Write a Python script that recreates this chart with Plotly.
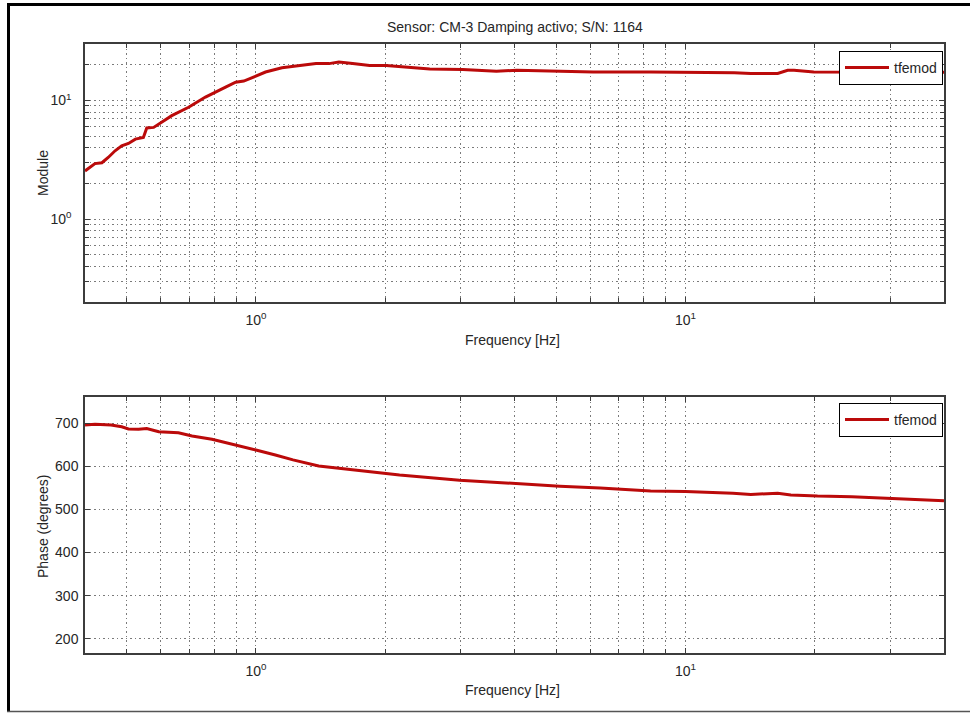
import math
import plotly.graph_objects as go

# Measured transfer function of the CM-3 sensor (active damping), S/N 1164
freq_module = [0.400, 0.422, 0.438, 0.453, 0.470, 0.487, 0.505, 0.524, 0.547, 0.557,
               0.578, 0.637, 0.697, 0.763, 0.850, 0.897, 0.937, 1.00, 1.053, 1.15,
               1.26, 1.38, 1.48, 1.56, 1.68, 1.84, 2.01, 2.24, 2.54, 3.03,
               3.63, 4.05, 4.93, 6.10, 8.30, 9.05, 11.4, 13.0, 14.2, 16.4,
               17.3, 17.9, 19.9, 22.7, 30.0, 40.0]
module = [2.55, 2.94, 2.99, 3.31, 3.77, 4.15, 4.35, 4.73, 4.89, 5.87,
          5.94, 7.46, 8.78, 10.7, 13.0, 14.3, 14.6, 16.0, 17.4, 18.9,
          19.8, 20.5, 20.5, 21.1, 20.5, 19.8, 19.8, 19.2, 18.5, 18.3,
          17.7, 18.0, 17.6, 17.4, 17.4, 17.4, 17.4, 17.2, 16.9, 16.9,
          18.0, 18.0, 17.4, 17.4, 17.4, 17.3]

freq_phase = [0.400, 0.422, 0.460, 0.487, 0.505, 0.533, 0.557, 0.594, 0.660, 0.710,
              0.790, 0.880, 1.00, 1.11, 1.22, 1.40, 1.60, 1.80, 2.00, 2.16,
              2.98, 4.12, 5.10, 6.33, 8.30, 10.0, 10.8, 12.9, 14.2, 16.4,
              17.6, 20.3, 24.4, 30.1, 40.0]
phase = [696, 697.7, 696, 692, 687, 686, 688, 680.5, 678, 670.5,
         663, 652, 638, 626.5, 615, 601, 594, 588, 583, 580,
         568, 559, 554, 550, 543, 542, 541, 537.5, 535, 537.5,
         533.6, 531, 529.7, 526, 520]

# Decade ticks (labelled) and in-between grid positions for the log axes
decade_ticks = [1, 10]
decade_labels = ["10<sup>0</sup>", "10<sup>1</sup>"]
freq_minor = [0.4, 0.5, 0.6, 0.7, 0.8, 0.9, 2, 3, 4, 5, 6, 7, 8, 9, 20, 30, 40]
module_minor = [0.2, 0.3, 0.4, 0.5, 0.6, 0.7, 0.8, 0.9, 2, 3, 4, 5, 6, 7, 8, 9, 20, 30]
phase_ticks = [200, 300, 400, 500, 600, 700]

W, H = 970, 713
LINE_RED = "#bb0a0a"
FONT = "Liberation Sans, Arial, Helvetica, sans-serif"
TXT = "#262626"
FS = 14
GRID_DASH = "1.5px,3px"
GRID_COLOR = "#7a7a7a"


def px(x):
    return x / W


def py(y):
    return 1 - y / H


axis_common = dict(
    showline=True, linecolor="#3c3c3c", linewidth=1.5, mirror="ticks",
    ticks="inside", ticklen=5, tickwidth=1, tickcolor="#3c3c3c",
    showgrid=True, gridcolor=GRID_COLOR, griddash=GRID_DASH, gridwidth=1,
    zeroline=False, tickfont=dict(family=FONT, size=FS, color=TXT),
)


def minor_grid(vals):
    return dict(tickmode="array", tickvals=vals, ticks="inside", ticklen=4,
                tickwidth=1, tickcolor="#3c3c3c", showgrid=True,
                gridcolor=GRID_COLOR, griddash=GRID_DASH, gridwidth=1)


fig = go.Figure()
fig.add_trace(go.Scatter(
    x=freq_module, y=module, mode="lines", name="tfemod",
    line=dict(color=LINE_RED, width=3), xaxis="x", yaxis="y", legend="legend",
))
fig.add_trace(go.Scatter(
    x=freq_phase, y=phase, mode="lines", name="tfemod",
    line=dict(color=LINE_RED, width=3), xaxis="x2", yaxis="y2", legend="legend2",
))

xdom = [px(85), px(944)]
xrange = [math.log10(0.4), math.log10(40)]

legend_style = dict(
    xanchor="right", yanchor="top", bgcolor="white", bordercolor="#000000",
    borderwidth=1, itemwidth=44, font=dict(family=FONT, size=FS, color=TXT),
)

fig.update_layout(
    width=W, height=H, autosize=False,
    margin=dict(l=0, r=0, t=0, b=0),
    paper_bgcolor="white", plot_bgcolor="white",
    font=dict(family=FONT, size=FS, color=TXT),
    xaxis=dict(axis_common, domain=xdom, anchor="y", type="log", range=xrange,
               tickmode="array", tickvals=decade_ticks, ticktext=decade_labels,
               minor=minor_grid(freq_minor), ticklabelstandoff=4),
    yaxis=dict(axis_common, domain=[py(302), py(44)], anchor="x", type="log",
               range=[math.log10(0.2), math.log10(30)], tickmode="array",
               tickvals=decade_ticks, ticktext=decade_labels,
               minor=minor_grid(module_minor), ticklabelstandoff=9),
    xaxis2=dict(axis_common, domain=xdom, anchor="y2", type="log", range=xrange,
                tickmode="array", tickvals=decade_ticks, ticktext=decade_labels,
                minor=minor_grid(freq_minor), ticklabelstandoff=4),
    yaxis2=dict(axis_common, domain=[py(653), py(397)], anchor="x2",
                range=[167, 761], tickmode="array", tickvals=phase_ticks,
                ticktext=[str(v) for v in phase_ticks], ticklabelstandoff=2),
    legend=dict(legend_style, x=px(943), y=py(51)),
    legend2=dict(legend_style, x=px(943), y=py(403)),
    showlegend=True,
)

annotations = [
    dict(text="Sensor: CM-3 Damping activo; S/N: 1164", x=px(514.5), y=py(27.5)),
    dict(text="Frequency [Hz]", x=px(512), y=py(340)),
    dict(text="Frequency [Hz]", x=px(512), y=py(690)),
    dict(text="Module", x=px(43), y=py(173), textangle=-90),
    dict(text="Phase (degrees)", x=px(43), y=py(526), textangle=-90),
]
for a in annotations:
    fig.add_annotation(xref="paper", yref="paper", showarrow=False,
                       xanchor="center", yanchor="middle",
                       font=dict(family=FONT, size=FS, color=TXT), **a)

# Figure frame: heavy left and top edges, thin bottom edge
fig.add_shape(type="line", xref="paper", yref="paper",
              x0=px(8.5), x1=px(8.5), y0=py(3), y1=py(712),
              line=dict(color="#000000", width=3))
fig.add_shape(type="line", xref="paper", yref="paper",
              x0=px(7), x1=1, y0=py(4.5), y1=py(4.5),
              line=dict(color="#000000", width=3))
fig.add_shape(type="line", xref="paper", yref="paper",
              x0=px(7), x1=1, y0=py(711.5), y1=py(711.5),
              line=dict(color="#555555", width=1.5))

fig.write_html("out.html")
